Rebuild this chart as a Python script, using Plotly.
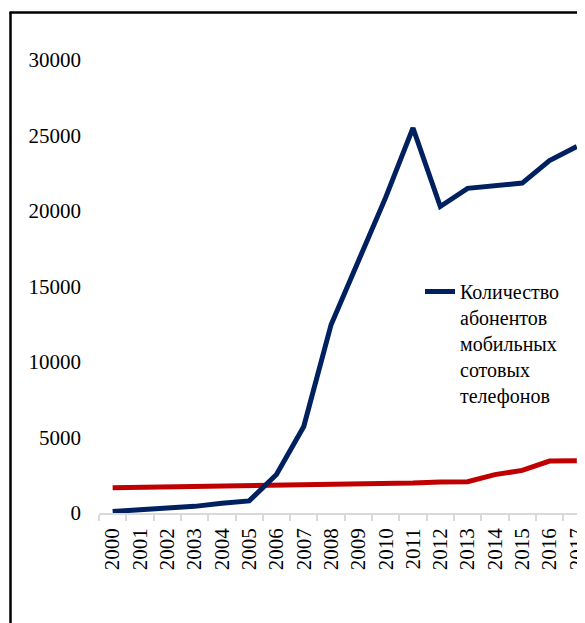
import plotly.graph_objects as go

years = [str(y) for y in range(2000, 2018)]
mobile = [100, 200, 280, 440, 640, 800, 2550, 5730, 12470, 16600, 20900,
          25500, 20300, 21500, 21670, 21850, 23340, 24270]
other = [1680, 1700, 1720, 1740, 1770, 1800, 1840, 1870, 1920, 1920, 1960,
         1980, 2050, 2070, 2540, 2820, 3440, 3460]
yticks = [0, 5000, 10000, 15000, 20000, 25000, 30000]
yticktext = [str(v) for v in yticks]
legend_name = "Количество<br>абонентов<br>мобильных<br>сотовых<br>телефонов"

# page has an 8px body margin; figure drawn at (8, 8)
OFF = 8
W, H = 585 - OFF, 623 - OFF
L, R, T, B = 99 - OFF, 0, 60 - OFF, 110
pw, ph = W - L - R, H - T - B

def px(x):  # page pixel -> paper
    return (x - OFF - L) / pw

def py(y):
    return (H - B - (y - OFF)) / ph

fig = go.Figure()
fig.add_trace(go.Scatter(x=years, y=other, mode="lines", showlegend=False,
                         line=dict(color="#C00000", width=5)))
fig.add_trace(go.Scatter(x=years, y=mobile, mode="lines", name=legend_name,
                         line=dict(color="#002060", width=5)))

font = dict(family="Liberation Serif", size=21, color="#000000")
lfont = dict(family="Liberation Serif", size=20, color="#000000")

fig.update_layout(
    width=W, height=H,
    margin=dict(l=L, r=R, t=T, b=B, pad=0, autoexpand=False),
    paper_bgcolor="white", plot_bgcolor="white",
    font=font,
    showlegend=True,
    legend=dict(x=px(420), y=py(272), xanchor="left", yanchor="top",
                valign="top", bgcolor="rgba(0,0,0,0)", font=lfont),
    xaxis=dict(type="category", range=[-0.5, 17.3], showgrid=False,
               showline=True, linecolor="#d9d9d9", linewidth=1.5,
               ticks="outside", tickson="boundaries", ticklen=6,
               tickcolor="#d9d9d9", tickwidth=1.5, tickangle=-90,
               ticklabelstandoff=5,
               tickfont=font, zeroline=False, automargin=False),
    yaxis=dict(range=[0, 30000], tickvals=yticks, ticktext=yticktext,
               showgrid=False, showline=False, zeroline=False, ticks="",
               ticklabelstandoff=17, tickfont=font, automargin=False),
    shapes=[
        dict(type="line", xref="paper", yref="paper",
             x0=px(10.5), x1=px(10.5), y0=py(12), y1=py(H + 40),
             line=dict(color="black", width=2.5)),
        dict(type="line", xref="paper", yref="paper",
             x0=px(9.5), x1=px(W + 40), y0=py(12.5), y1=py(12.5),
             line=dict(color="black", width=2.5)),
    ],
)

fig.write_html("out.html")
